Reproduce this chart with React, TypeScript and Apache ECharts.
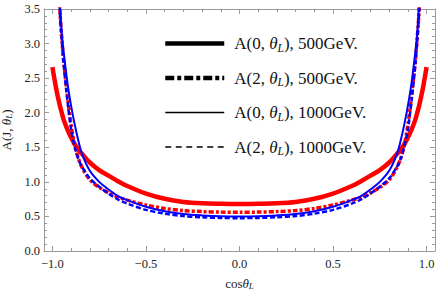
import React, { useEffect, useRef } from 'react';
import * as echarts from 'echarts';

// x positions (cos theta_L) at which the curves were read
const xValues = [
  -1, -0.98, -0.96, -0.95, -0.94, -0.92, -0.9, -0.88, -0.86, -0.84, -0.8, -0.75, -0.7, -0.65, -0.6, -0.5, -0.4, -0.3, -0.2, -0.1,
  0,
  0.1, 0.2, 0.3, 0.4, 0.5, 0.6, 0.65, 0.7, 0.75, 0.8, 0.84, 0.86, 0.88, 0.9, 0.92, 0.94, 0.95, 0.96, 0.98, 1,
];

// A(0, thetaL), 500 GeV (thick red solid)
const a0_500 = [
  2.66, 2.35, 2.1, 2.0, 1.9, 1.76, 1.64, 1.54, 1.46, 1.4, 1.28, 1.17, 1.09, 1.01, 0.94, 0.83, 0.755, 0.71, 0.69, 0.683,
  0.68,
  0.683, 0.69, 0.71, 0.755, 0.83, 0.94, 1.01, 1.09, 1.17, 1.28, 1.4, 1.46, 1.54, 1.64, 1.76, 1.9, 2.0, 2.1, 2.35, 2.66,
];

// A(2, thetaL), 500 GeV (thick red dash-dot)
const a2_500 = [
  8, 4.8, 3.48, 3.08, 2.75, 2.25, 1.82, 1.52, 1.33, 1.2, 1.03, 0.92, 0.84, 0.78, 0.735, 0.665, 0.615, 0.585, 0.57, 0.563,
  0.56,
  0.563, 0.57, 0.585, 0.615, 0.665, 0.735, 0.78, 0.84, 0.92, 1.03, 1.2, 1.33, 1.52, 1.82, 2.25, 2.75, 3.08, 3.48, 4.8, 8,
];

// A(0, thetaL), 1000 GeV (thin blue solid)
const a0_1000 = [
  8, 5.0, 3.6, 3.15, 2.88, 2.44, 2.1, 1.82, 1.58, 1.39, 1.16, 1.0, 0.89, 0.795, 0.735, 0.64, 0.575, 0.535, 0.515, 0.503,
  0.5,
  0.503, 0.515, 0.535, 0.575, 0.64, 0.735, 0.795, 0.89, 1.0, 1.16, 1.39, 1.58, 1.82, 2.1, 2.44, 2.88, 3.15, 3.6, 5.0, 8,
];

// A(2, thetaL), 1000 GeV (blue dashed)
const a2_1000 = [
  8, 4.8, 3.45, 3.05, 2.7, 2.18, 1.76, 1.5, 1.32, 1.21, 1.05, 0.93, 0.83, 0.745, 0.685, 0.595, 0.54, 0.505, 0.488, 0.478,
  0.475,
  0.478, 0.488, 0.505, 0.54, 0.595, 0.685, 0.745, 0.83, 0.93, 1.05, 1.21, 1.32, 1.5, 1.76, 2.18, 2.7, 3.05, 3.45, 4.8, 8,
];

const seriesNames = ['A(0, θL), 500GeV.', 'A(2, θL), 500GeV.', 'A(0, θL), 1000GeV.', 'A(2, θL), 1000GeV.'];
const legendJ = ['0', '2', '0', '2'];
const legendGeV = ['500', '500', '1000', '1000'];

const xMajorTicks = [-1, -0.5, 0, 0.5, 1];
const xMinorTicks = [-1, -0.9, -0.8, -0.7, -0.6, -0.5, -0.4, -0.3, -0.2, -0.1, 0, 0.1, 0.2, 0.3, 0.4, 0.5, 0.6, 0.7, 0.8, 0.9, 1];

const FONT = '"Liberation Serif", "Times New Roman", serif';
const FRAME = '#9a9a9a';
const LABEL = '#222222';

const fmt = (v: number) => (v < 0 ? '\u2212' + Math.abs(v).toFixed(1) : v.toFixed(1));

export default function App() {
  const ref = useRef<HTMLDivElement>(null);

  useEffect(() => {
    if (!ref.current) return;
    const chart = echarts.init(ref.current, undefined, { renderer: 'svg' });

    const pairs = (ys: number[]) => xValues.map((x, i) => [x, ys[i]]);

    const xMin = -1.045;
    const xMax = 1.045;

    const baseX = {
      type: 'value' as const,
      min: xMin,
      max: xMax,
      splitLine: { show: false },
    };

    const richAxis = {
      n: { fontFamily: FONT, fontSize: 13, color: LABEL, lineHeight: 14, verticalAlign: 'middle' },
      i: { fontFamily: FONT, fontSize: 13, fontStyle: 'italic', color: LABEL, lineHeight: 14, verticalAlign: 'middle' },
      s: { fontFamily: FONT, fontSize: 9, fontStyle: 'italic', color: LABEL, lineHeight: 8, verticalAlign: 'bottom' },
    };

    const richLegend = {
      f: { fontFamily: FONT, fontSize: 17, color: '#111', lineHeight: 20, verticalAlign: 'middle', padding: [0, 0, 0, 5] },
      n: { fontFamily: FONT, fontSize: 17, color: '#111', lineHeight: 20, verticalAlign: 'middle' },
      i: { fontFamily: FONT, fontSize: 17, fontStyle: 'italic', color: '#111', lineHeight: 20, verticalAlign: 'middle' },
      s: { fontFamily: FONT, fontSize: 11.5, fontStyle: 'italic', color: '#111', lineHeight: 11, verticalAlign: 'bottom' },
    };

    const legendStyles = [
      { width: 4.5, type: 'solid' as any },
      { width: 4.5, type: [9, 3, 4, 3] as any },
      { width: 1.6, type: 'solid' as any },
      { width: 1.6, type: [6, 4.5] as any },
    ];

    const option: any = {
      animation: false,
      backgroundColor: '#ffffff',
      grid: { left: 44, right: 1, top: 9, bottom: 43, containLabel: false, outerBoundsMode: 'none' },
      legend: {
        show: true,
        selectedMode: false,
        orient: 'vertical',
        left: 163,
        top: 35,
        padding: 0,
        itemWidth: 59,
        itemHeight: 14,
        itemGap: 16,
        textStyle: { rich: richLegend },
        formatter: (name: string) => {
          const k = seriesNames.indexOf(name);
          return `{f|A(${legendJ[k]}, }{i|θ}{s|L}{n|), ${legendGeV[k]}GeV.}`;
        },
        data: seriesNames.map((name, k) => ({
          name,
          itemStyle: { color: '#000', opacity: 0, borderWidth: 0 },
          lineStyle: { color: '#000', width: legendStyles[k].width, type: legendStyles[k].type, cap: 'butt', opacity: 1 },
        })),
      },
      xAxis: [
        {
          ...baseX,
          position: 'bottom',
          axisLine: { show: true, onZero: false, lineStyle: { color: FRAME, width: 1 } },
          axisTick: { show: true, inside: true, length: 5, customValues: xMajorTicks, lineStyle: { color: FRAME } },
          axisLabel: { show: true, customValues: xMajorTicks, formatter: fmt, margin: 6, fontFamily: FONT, fontSize: 12.5, color: LABEL },
          name: '{n|cos}{i|θ}{s|L}',
          nameLocation: 'middle',
          nameGap: 25,
          nameTextStyle: { rich: richAxis },
        },
        {
          ...baseX,
          position: 'bottom',
          axisLine: { show: false, onZero: false },
          axisTick: { show: true, inside: true, length: 3, customValues: xMinorTicks, lineStyle: { color: FRAME } },
          axisLabel: { show: false },
        },
        {
          ...baseX,
          position: 'top',
          axisLine: { show: true, onZero: false, lineStyle: { color: FRAME, width: 1 } },
          axisTick: { show: true, inside: true, length: 5, customValues: xMajorTicks, lineStyle: { color: FRAME } },
          axisLabel: { show: false },
        },
        {
          ...baseX,
          position: 'top',
          axisLine: { show: false, onZero: false },
          axisTick: { show: true, inside: true, length: 3, customValues: xMinorTicks, lineStyle: { color: FRAME } },
          axisLabel: { show: false },
        },
      ],
      yAxis: [
        {
          type: 'value',
          position: 'left',
          min: 0,
          max: 3.5,
          interval: 0.5,
          splitLine: { show: false },
          axisLine: { show: true, onZero: false, lineStyle: { color: FRAME, width: 1 } },
          axisTick: { show: true, inside: true, length: 5, lineStyle: { color: FRAME } },
          minorTick: { show: true, splitNumber: 5, length: 3, lineStyle: { color: FRAME } },
          axisLabel: { show: true, formatter: (v: number) => v.toFixed(1), margin: 4, fontFamily: FONT, fontSize: 12.5, color: LABEL },
          name: '{n|A(J, }{i|θ}{s|L}{n|)}',
          nameLocation: 'middle',
          nameGap: 26,
          nameRotate: 90,
          nameTextStyle: { rich: richAxis },
        },
        {
          type: 'value',
          position: 'right',
          min: 0,
          max: 3.5,
          interval: 0.5,
          splitLine: { show: false },
          axisLine: { show: true, onZero: false, lineStyle: { color: FRAME, width: 1 } },
          axisTick: { show: true, inside: true, length: 5, lineStyle: { color: FRAME } },
          minorTick: { show: true, splitNumber: 5, length: 3, lineStyle: { color: FRAME } },
          axisLabel: { show: false },
        },
      ],
      series: [
        {
          name: seriesNames[0],
          type: 'line',
          data: pairs(a0_500),
          symbol: 'none',
          showSymbol: false,
          smooth: 0.3,
          clip: true,
          lineStyle: { color: '#ff0000', width: 4.5, cap: 'butt' },
          itemStyle: { color: '#ff0000' },
        },
        {
          name: seriesNames[1],
          type: 'line',
          data: pairs(a2_500),
          symbol: 'none',
          showSymbol: false,
          smooth: 0.3,
          clip: true,
          lineStyle: { color: '#ff0000', width: 3.5, type: [5, 2, 3, 2], cap: 'butt' },
          itemStyle: { color: '#ff0000' },
        },
        {
          name: seriesNames[2],
          type: 'line',
          data: pairs(a0_1000),
          symbol: 'none',
          showSymbol: false,
          smooth: 0.3,
          clip: true,
          lineStyle: { color: '#0000ff', width: 2, cap: 'butt' },
          itemStyle: { color: '#0000ff' },
        },
        {
          name: seriesNames[3],
          type: 'line',
          data: pairs(a2_1000),
          symbol: 'none',
          showSymbol: false,
          smooth: 0.3,
          clip: true,
          lineStyle: { color: '#0000ff', width: 2.5, type: [5, 2.5], cap: 'butt' },
          itemStyle: { color: '#0000ff' },
        },
      ],
    };

    chart.setOption(option);
    return () => {
      chart.dispose();
    };
  }, []);

  return (
    <div
      ref={ref}
      style={{ position: 'fixed', left: 0, top: 0, width: 436, height: 294, background: '#fff' }}
    />
  );
}
